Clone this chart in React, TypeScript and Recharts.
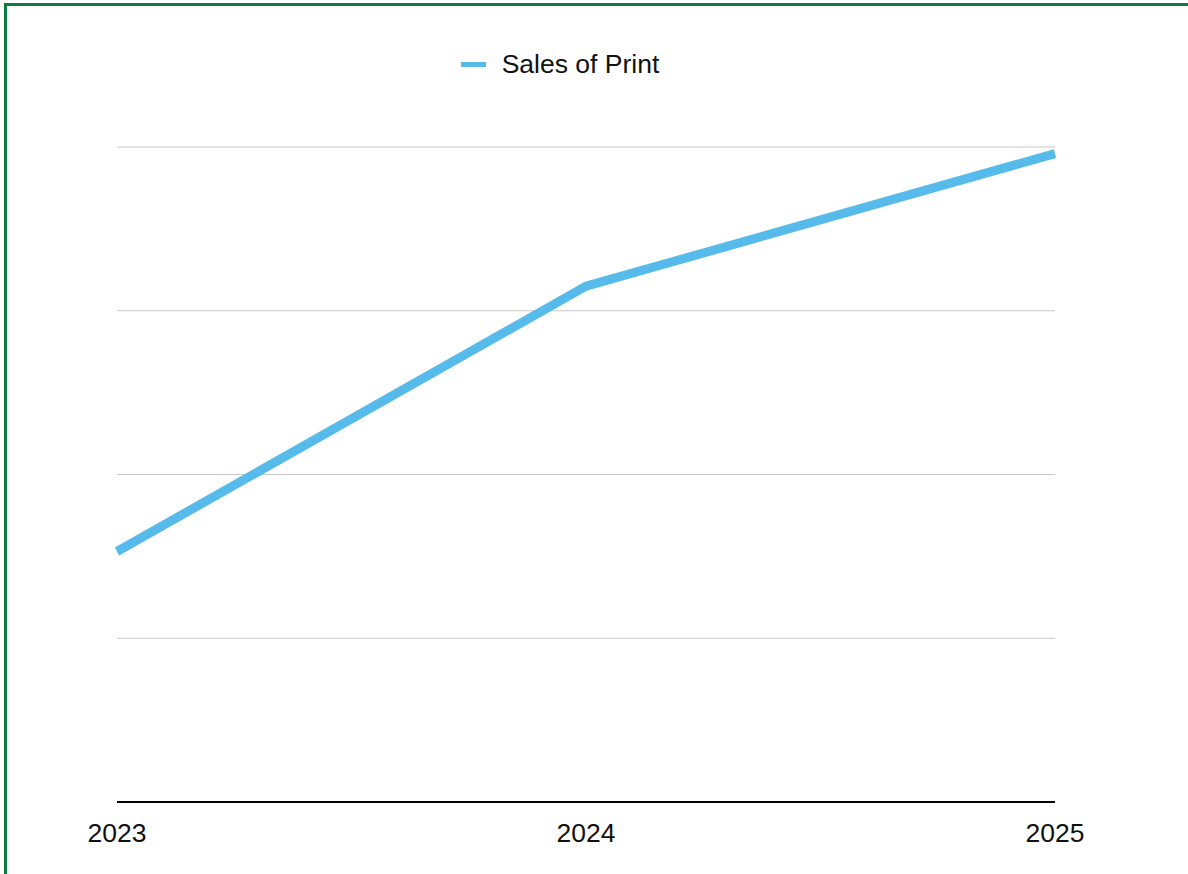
import React from 'react';
import { CartesianGrid, Legend, Line, LineChart, XAxis, YAxis } from 'recharts';

const years = ['2023', '2024', '2025'];
const salesOfPrint = [1.53, 3.15, 3.96];
const yTicks = [0, 1, 2, 3, 4];

const LINE_BLUE = '#56bbeb';
const FONT = '"Liberation Sans", Arial, Helvetica, sans-serif';

const data = years.map((year, i) => ({ year, sales: salesOfPrint[i] }));

const LegendContent = () => (
  <div
    style={{
      display: 'flex',
      alignItems: 'center',
      justifyContent: 'center',
      height: 30,
      fontFamily: FONT,
      fontSize: 26.5,
      color: '#111',
    }}
  >
    <span
      style={{
        display: 'inline-block',
        width: 25,
        height: 5,
        background: LINE_BLUE,
        marginRight: 16,
      }}
    />
    <span>Sales of Print</span>
  </div>
);

const App = () => (
  <div
    style={{
      position: 'absolute',
      left: 0,
      top: 0,
      width: 1188,
      height: 874,
      background: '#fff',
      overflow: 'hidden',
    }}
  >
    {/* frame: only top and left edges show in the crop */}
    <div
      style={{
        position: 'absolute',
        left: 4,
        top: 3,
        width: 1300,
        height: 900,
        border: '3px solid #0d7a40',
        boxSizing: 'border-box',
      }}
    />
    <div style={{ position: 'absolute', left: 0, top: 0 }}>
      <LineChart
        width={1188}
        height={874}
        data={data}
        margin={{ top: 117, right: 133, bottom: 42, left: 117 }}
      >
        <CartesianGrid vertical={false} stroke="#c8c8c8" strokeWidth={1} />
        <XAxis
          dataKey="year"
          height={30}
          axisLine={{ stroke: '#000', strokeWidth: 2 }}
          tickLine={false}
          tickMargin={15}
          tick={{ fill: '#111', fontSize: 26.5, fontFamily: FONT }}
          interval={0}
        />
        <YAxis hide domain={[0, 4]} ticks={yTicks} />
        <Legend
          verticalAlign="top"
          height={30}
          content={<LegendContent />}
          wrapperStyle={{ top: 49, left: 0, width: 1120 }}
        />
        <Line
          type="linear"
          dataKey="sales"
          stroke={LINE_BLUE}
          strokeWidth={9}
          dot={false}
          activeDot={false}
          isAnimationActive={false}
        />
      </LineChart>
    </div>
  </div>
);

export default App;
